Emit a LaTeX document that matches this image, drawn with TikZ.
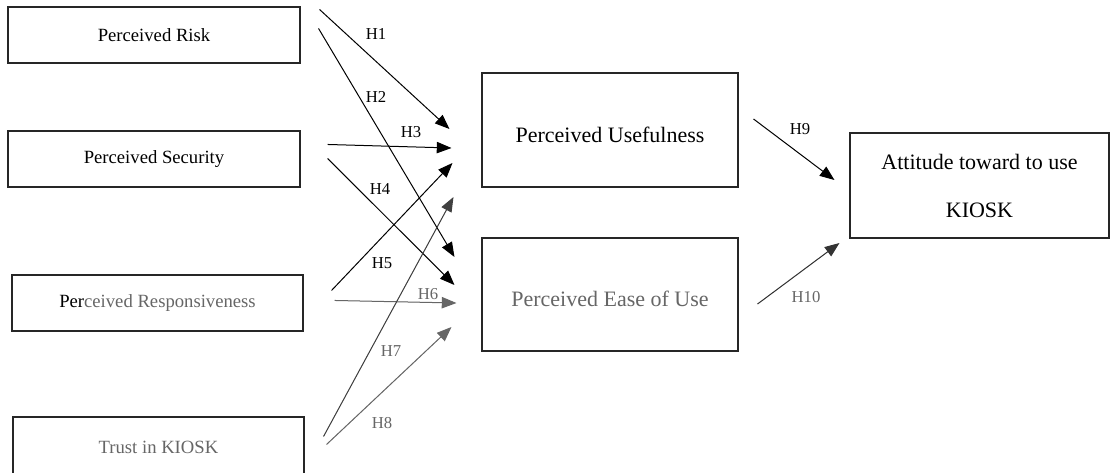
\documentclass[tikz,border=0pt]{standalone}
\usepackage{fontspec}
\setmainfont{Liberation Serif}
\usetikzlibrary{calc,arrows.meta}
\definecolor{wm}{gray}{0.4}
\tikzset{
  box/.style={draw=black!85, line width=0.8pt, inner sep=0pt, align=center},
  smallbox/.style={box, font=\fontsize{14pt}{16pt}\selectfont},
  bigbox/.style={box, font=\fontsize{16.5pt}{36pt}\selectfont},
  hyp/.style={line width=0.75pt, -{Triangle[length=11pt,width=8.5pt]}},
  lab/.style={inner sep=0pt, font=\fontsize{12.5pt}{14pt}\selectfont}
}
\begin{document}
\begin{tikzpicture}[x=0.75pt,y=-0.75pt]
\useasboundingbox (0,0) rectangle (1110,472);
\clip (0,0) rectangle (1110,472);
\fill[white] (0,0) rectangle (1110,472);
% left boxes
\node[smallbox, minimum width=219pt, minimum height=42pt] (risk) at (154,35) {Perceived Risk};
\node[smallbox, minimum width=219pt, minimum height=42pt] (sec) at (154,159) {Perceived Security};
\node[smallbox, minimum width=218.25pt, minimum height=42pt] (resp) at (157.5,303) {Per\textcolor{wm}{ceived Responsiveness}};
\node[smallbox, minimum width=218.25pt, minimum height=45pt, text=wm] (trust) at (158.5,447) {Trust in KIOSK};
% middle boxes
\node[bigbox, minimum width=192pt, minimum height=85.5pt, text height=18pt, text depth=0pt] (pu) at (610,130) {Perceived Usefulness};
\node[bigbox, minimum width=192pt, minimum height=84.75pt, text=wm, text height=18pt, text depth=0pt] (peou) at (610,294.5) {Perceived Ease of Use};
% right box
\node[bigbox, minimum width=194.25pt, minimum height=78.75pt] (att) at (979.5,185.5) {Attitude toward to use\\KIOSK};
% hypotheses arrows
\draw[hyp] ($(risk.north east)+(19,3)$) -- ($(pu.west)+(-32,-1)$);
\draw[hyp] ($(risk.north east)+(18,22)$) -- ($(peou.west)+(-27,-37.5)$);
\draw[hyp] ($(sec.north east)+(27,14)$) -- ($(pu.west)+(-30,18)$);
\draw[hyp] ($(sec.north east)+(27,28)$) -- ($(peou.west)+(-27,-9.5)$);
\draw[hyp] ($(resp.north east)+(28,16)$) -- ($(pu.west)+(-29,33)$);
\draw[hyp, draw=black!60, fill=black!60] ($(resp.north east)+(31,26)$) -- ($(peou.west)+(-25,8.5)$);
\draw[hyp, draw=black!75, fill=black!75] ($(trust.north east)+(19,20)$) -- ($(pu.west)+(-28,67)$);
\draw[hyp, draw=black!60, fill=black!60] ($(trust.north east)+(22,28)$) -- ($(peou.west)+(-30,32.5)$);
\draw[hyp] ($(pu.east)+(15,-11)$) -- ($(att.west)+(-15,-5.5)$);
\draw[hyp, draw=black!80, fill=black!80] ($(peou.east)+(19,9.5)$) -- ($(att.west)+(-10,57.5)$);
% labels
\node[lab] (l1) at (376,34) {H1};
\node[lab] (l2) at (376,97) {H2};
\node[lab] (l3) at (411,132) {H3};
\node[lab] (l4) at (380,189) {H4};
\node[lab] (l5) at (382,263) {H5};
\node[lab, text=wm] (l6) at (428,294) {H6};
\node[lab, text=wm] (l7) at (391,351) {H7};
\node[lab, text=wm] (l8) at (382,423) {H8};
\node[lab] (l9) at (800,129) {H9};
\node[lab, text=wm] (l10) at (806,297) {H10};
\end{tikzpicture}
\end{document}
